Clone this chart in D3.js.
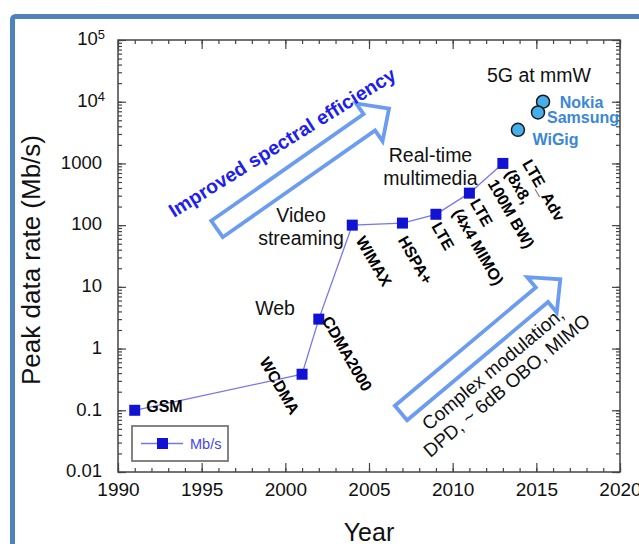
<!DOCTYPE html>
<html><head><meta charset="utf-8">
<script src="https://cdn.jsdelivr.net/npm/d3@7"></script>
<style>
body{margin:0;background:#fff;}
svg{display:block;font-family:"Liberation Sans",Arial,Helvetica,sans-serif;}
</style></head><body>
<svg id="chart" width="639" height="544"></svg>
<script>
// Peak data rate of cellular / wireless standards over time
const years = [1991, 2001, 2002, 2004, 2007, 2009, 2011, 2013];
const rates = [0.1, 0.384, 3, 100, 108, 150, 330, 1000];
const techNames = ["GSM", "WCDMA", "CDMA2000", "WIMAX", "HSPA+", "LTE", "LTE\n(4x4 MIMO)", "LTE_Adv\n(8x8,\n100M BW)"];
const mmwNames = ["Nokia", "Samsung", "WiGig"];
const mmwYears = [2015.4, 2015.1, 2013.9];
const mmwRates = [10000, 6700, 3500];
const xTicks = [1990, 1995, 2000, 2005, 2010, 2015, 2020];
const yTicks = [0.01, 0.1, 1, 10, 100, 1000, 1e4, 1e5];
const yTickLabels = ["0.01", "0.1", "1", "10", "100", "1000", "10^4", "10^5"];
const seriesName = "Mb/s";

const svg = d3.select("#chart");
const L = 118, R = 620, T = 40, B = 472;
const x = d3.scaleLinear().domain([1990, 2020]).range([L, R]);
const y = d3.scaleLog().domain([0.01, 1e5]).range([B, T]);

const axisColor = "#444";
const lineColor = "#7676f2";
const markColor = "#1212d4";

// outer slide frame
svg.append("rect").attr("x", 12.5).attr("y", 16.5).attr("width", 700).attr("height", 600)
  .attr("rx", 3).attr("fill", "none").attr("stroke", "#4f81bd").attr("stroke-width", 5);

// axes: ticks point inward on all four sides
function styleAxis(g) {
  g.select(".domain").remove();
  g.selectAll(".tick line").attr("stroke", axisColor).attr("stroke-width", 1.2);
  g.attr("font-family", null).attr("font-size", null);
}
const minorYears = d3.range(1990, 2021);
const minorY = y.ticks();

svg.append("g").attr("transform", `translate(0,${B})`)
  .call(d3.axisBottom(x).tickValues(minorYears).tickSize(-4).tickFormat("")).call(styleAxis);
const gx = svg.append("g").attr("transform", `translate(0,${B})`)
  .call(d3.axisBottom(x).tickValues(xTicks).tickSize(-9).tickPadding(11).tickFormat(d3.format("d")))
  .call(styleAxis);
gx.selectAll(".tick text").attr("font-size", 19).attr("fill", "#111");

svg.append("g").attr("transform", `translate(0,${T})`)
  .call(d3.axisTop(x).tickValues(minorYears).tickSize(-4).tickFormat("")).call(styleAxis);
svg.append("g").attr("transform", `translate(0,${T})`)
  .call(d3.axisTop(x).tickValues(xTicks).tickSize(-9).tickFormat("")).call(styleAxis);

svg.append("g").attr("transform", `translate(${L},0)`)
  .call(d3.axisLeft(y).tickValues(minorY).tickSize(-4).tickFormat("")).call(styleAxis);
const gy = svg.append("g").attr("transform", `translate(${L},0)`)
  .call(d3.axisLeft(y).tickValues(yTicks).tickSize(-8).tickPadding(16))
  .call(styleAxis);
gy.selectAll(".tick text").attr("font-size", 18.5).attr("fill", "#111").attr("dy", "0.26em")
  .each(function (d) {
    const lab = yTickLabels[yTicks.indexOf(d)];
    const t = d3.select(this).text(null);
    if (lab.includes("^")) {
      const [b, e] = lab.split("^");
      t.attr("dx", 3);
      t.append("tspan").text(b);
      t.append("tspan").attr("dy", "-0.5em").attr("font-size", "0.7em").text(e);
    } else t.text(lab);
  });

svg.append("g").attr("transform", `translate(${R},0)`)
  .call(d3.axisRight(y).tickValues(minorY).tickSize(-4).tickFormat("")).call(styleAxis);
svg.append("g").attr("transform", `translate(${R},0)`)
  .call(d3.axisRight(y).tickValues(yTicks).tickSize(-8).tickFormat("")).call(styleAxis);

svg.append("rect").attr("x", L).attr("y", T).attr("width", R - L).attr("height", B - T)
  .attr("fill", "none").attr("stroke", axisColor).attr("stroke-width", 1.5);

// axis titles
svg.append("text").attr("transform", "translate(40,260) rotate(-90)").attr("text-anchor", "middle")
  .attr("font-size", 26).attr("fill", "#111").text("Peak data rate (Mb/s)");
svg.append("text").attr("x", 369).attr("y", 541).attr("text-anchor", "middle")
  .attr("font-size", 25).attr("fill", "#111").text("Year");

// hollow block arrows
function blockArrow(cx, cy, angle, len, halfW, headHalf, headLen) {
  const s = len - headLen;
  const pts = [[0, -halfW], [s, -halfW], [s, -headHalf], [len, 0], [s, headHalf], [s, halfW], [0, halfW]];
  svg.append("path")
    .attr("d", d3.line()(pts) + "Z")
    .attr("transform", `translate(${cx},${cy}) rotate(${angle})`)
    .attr("fill", "none").attr("stroke", "#6b9cf2").attr("stroke-width", 3.8)
    .attr("stroke-linejoin", "miter");
}
blockArrow(217, 229, -35, 210, 10, 23, 24);
blockArrow(401, 413, -40, 208, 9.5, 23, 24);

// annotation texts
svg.append("text").attr("transform", "translate(174,218) rotate(-32)")
  .attr("font-size", 19.5).attr("font-weight", "bold").attr("fill", "#2020ee")
  .text("Improved spectral efficiency");

const cm = svg.append("text").attr("transform", "translate(497,374) rotate(-40)")
  .attr("font-size", 19).attr("fill", "#111").attr("text-anchor", "middle");
cm.append("tspan").attr("x", 0).attr("dy", 0).text("Complex modulation,");
cm.append("tspan").attr("x", 0).attr("dy", 21.5).text("DPD, ~ 6dB OBO, MIMO");

function plainText(xc, yb, lines, anchor) {
  const t = svg.append("text").attr("font-size", 19.5).attr("fill", "#111").attr("text-anchor", anchor);
  lines.forEach((s, i) => t.append("tspan").attr("x", xc).attr("y", yb + i * 23).text(s));
}
plainText(275, 315, ["Web"], "middle");
plainText(301, 222, ["Video", "streaming"], "middle");
plainText(430.5, 162, ["Real-time", "multimedia"], "middle");
plainText(487, 82, ["5G at mmW"], "start");

// main series
const idx = d3.range(years.length);
svg.append("path")
  .attr("d", d3.line().x(i => x(years[i])).y(i => y(rates[i]))(idx))
  .attr("fill", "none").attr("stroke", lineColor).attr("stroke-width", 1.3);
svg.append("g").selectAll("rect").data(idx).join("rect")
  .attr("x", i => x(years[i]) - 5.5).attr("y", i => y(rates[i]) - 5.5)
  .attr("width", 11).attr("height", 11).attr("fill", markColor);

// point labels: offset from the point (px) and rotation (deg)
const labelLayout = [
  [11.5, 1.5, 0], [-43, -13, 60], [2.6, 1, 60], [3, 15, 60],
  [-5, 17, 60], [-5, 12, 60], [0, 9.5, 60], [19, 0, 60]
];
idx.forEach(i => {
  const [dx, dy, rot] = labelLayout[i];
  const t = svg.append("text")
    .attr("transform", `translate(${x(years[i]) + dx},${y(rates[i]) + dy}) rotate(${rot})`)
    .attr("font-size", 16).attr("font-weight", "bold").attr("fill", "#000");
  techNames[i].split("\n").forEach((s, k) =>
    t.append("tspan").attr("x", 0).attr("y", k * 20).text(s));
});

// mmWave demonstrations
const mIdx = d3.range(mmwNames.length);
svg.append("g").selectAll("circle").data(mIdx).join("circle")
  .attr("cx", i => x(mmwYears[i])).attr("cy", i => y(mmwRates[i])).attr("r", 6.5)
  .attr("fill", "#46aeea").attr("stroke", "#1a1a1a").attr("stroke-width", 1.5);
const mmwLabelOffset = [[16.7, 6], [9, 10.7], [14.6, 15]];
mIdx.forEach(i => {
  svg.append("text").attr("x", x(mmwYears[i]) + mmwLabelOffset[i][0])
    .attr("y", y(mmwRates[i]) + mmwLabelOffset[i][1])
    .attr("font-size", 16).attr("font-weight", "bold").attr("fill", "#3b87d6").text(mmwNames[i]);
});

// legend
const lg = svg.append("g").attr("transform", "translate(132,426)");
lg.append("rect").attr("width", 96).attr("height", 35).attr("fill", "#fff")
  .attr("stroke", "#777").attr("stroke-width", 1.8);
lg.append("line").attr("x1", 9).attr("x2", 51).attr("y1", 17.5).attr("y2", 17.5)
  .attr("stroke", lineColor).attr("stroke-width", 1.3);
lg.append("rect").attr("x", 25).attr("y", 12).attr("width", 11).attr("height", 11).attr("fill", markColor);
lg.append("text").attr("x", 58).attr("y", 23).attr("font-size", 14.5).attr("fill", "#4646f0").text(seriesName);
</script>
</body></html>
